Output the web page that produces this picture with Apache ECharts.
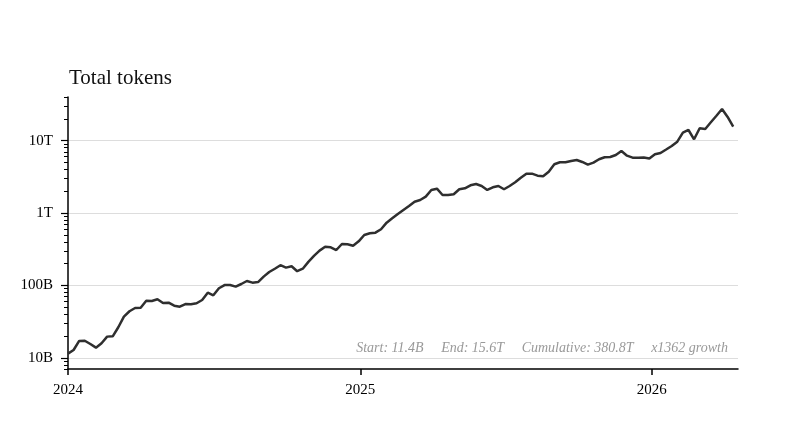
<!DOCTYPE html>
<html>
<head>
<meta charset="utf-8">
<script src="https://cdn.jsdelivr.net/npm/echarts@6/dist/echarts.min.js"></script>
<style>
  html, body { margin: 0; padding: 0; background: #ffffff; }
  #chart { width: 792px; height: 426px; }
</style>
</head>
<body>
<div id="chart"></div>
<script>
// Weekly dates (week starting)
const weeks = [
  '2024-01-01','2024-01-08','2024-01-15','2024-01-22','2024-01-29','2024-02-05','2024-02-12','2024-02-19','2024-02-26','2024-03-04',
  '2024-03-11','2024-03-18','2024-03-25','2024-04-01','2024-04-08','2024-04-15','2024-04-22','2024-04-29','2024-05-06','2024-05-13',
  '2024-05-20','2024-05-27','2024-06-03','2024-06-10','2024-06-17','2024-06-24','2024-07-01','2024-07-08','2024-07-15','2024-07-22',
  '2024-07-29','2024-08-05','2024-08-12','2024-08-19','2024-08-26','2024-09-02','2024-09-09','2024-09-16','2024-09-23','2024-09-30',
  '2024-10-07','2024-10-14','2024-10-21','2024-10-28','2024-11-04','2024-11-11','2024-11-18','2024-11-25','2024-12-02','2024-12-09',
  '2024-12-16','2024-12-23','2024-12-30','2025-01-06','2025-01-13','2025-01-20','2025-01-27','2025-02-03','2025-02-10','2025-02-17',
  '2025-02-24','2025-03-03','2025-03-10','2025-03-17','2025-03-24','2025-03-31','2025-04-07','2025-04-14','2025-04-21','2025-04-28',
  '2025-05-05','2025-05-12','2025-05-19','2025-05-26','2025-06-02','2025-06-09','2025-06-16','2025-06-23','2025-06-30','2025-07-07',
  '2025-07-14','2025-07-21','2025-07-28','2025-08-04','2025-08-11','2025-08-18','2025-08-25','2025-09-01','2025-09-08','2025-09-15',
  '2025-09-22','2025-09-29','2025-10-06','2025-10-13','2025-10-20','2025-10-27','2025-11-03','2025-11-10','2025-11-17','2025-11-24',
  '2025-12-01','2025-12-08','2025-12-15','2025-12-22','2025-12-29','2026-01-05','2026-01-12','2026-01-19','2026-01-26','2026-02-02',
  '2026-02-09','2026-02-16','2026-02-23','2026-03-02','2026-03-09','2026-03-16','2026-03-23','2026-03-30','2026-04-06','2026-04-13'
];

// Total tokens per week, in billions
const tokensB = [
  11.4, 12.8, 17.1, 17.2, 15.5, 13.8, 15.9, 19.6, 19.8, 26.4,
  37.0, 43.9, 48.7, 49.2, 61.5, 60.9, 64.3, 57.1, 57.7, 52.4,
  50.8, 55.3, 55.0, 56.6, 62.9, 79.3, 73.0, 91.2, 101, 101,
  96, 104.5, 115, 109, 111, 132, 153, 170, 190, 176,
  184, 157, 170, 211, 255, 302, 342, 336, 308, 373,
  370, 353, 406, 497, 524, 535, 596, 735, 845, 969,
  1100, 1249, 1432, 1512, 1680, 2078, 2166, 1773, 1773, 1813,
  2125, 2194, 2413, 2515, 2360, 2078, 2265, 2360, 2125, 2360,
  2655, 3060, 3489, 3489, 3275, 3213, 3719, 4706, 5016, 5016,
  5226, 5395, 5064, 4646, 4952, 5517, 5880, 5936, 6325, 7185,
  6186, 5805, 5805, 5843, 5660, 6468, 6742, 7535, 8424, 9656,
  12855, 14008, 10423, 14789, 14463, 17896, 22077, 27320, 21184, 15600
];

// Axis ticks
const yMajorTicks = [10, 100, 1000, 10000];
const yMajorLabels = ['10B', '100B', '1T', '10T'];
const yMinorTicks = [7, 8, 9, 20, 30, 40, 50, 60, 70, 80, 90, 200, 300, 400, 500, 600, 700, 800, 900,
  2000, 3000, 4000, 5000, 6000, 7000, 8000, 9000, 20000, 30000, 40000];
const xYearTicks = ['2024-01-01', '2025-01-01', '2026-01-01'];
const xYearLabels = ['2024', '2025', '2026'];
const xRange = ['2024-01-01', '2026-04-19'];

const titleText = 'Total tokens';
const noteText = 'Start: 11.4B     End: 15.6T     Cumulative: 380.8T     x1362 growth';

const serif = "'Liberation Serif', 'Times New Roman', serif";
const ts = d => +new Date(d + 'T00:00:00Z');
const yearTs = xYearTicks.map(ts);

const chart = echarts.init(document.getElementById('chart'), null, { renderer: 'canvas' });
chart.setOption({
  backgroundColor: '#ffffff',
  animation: false,
  title: [
    {
      text: titleText,
      left: 64,
      top: 63,
      textStyle: { fontFamily: serif, fontSize: 21, fontWeight: 'normal', color: '#111' }
    },
    {
      text: noteText,
      right: 59,
      top: 336,
      textStyle: { fontFamily: serif, fontSize: 14, fontStyle: 'italic', fontWeight: 'normal', color: '#999' }
    }
  ],
  grid: { left: 68, right: 54, top: 97, bottom: 57, containLabel: false },
  xAxis: {
    type: 'value',
    min: ts(xRange[0]),
    max: ts(xRange[1]),
    axisLine: { lineStyle: { color: '#000', width: 1.5 } },
    axisTick: { customValues: yearTs, length: 6, lineStyle: { color: '#000', width: 1.5 } },
    axisLabel: {
      customValues: yearTs,
      margin: 14,
      fontFamily: serif,
      fontSize: 15,
      color: '#000',
      formatter: function (v) {
        const i = yearTs.indexOf(v);
        return i >= 0 ? xYearLabels[i] : '';
      }
    },
    splitLine: { show: false }
  },
  yAxis: [
    {
      type: 'log',
      logBase: 10,
      min: 7,
      max: 40000,
      axisLine: { show: true, lineStyle: { color: '#000', width: 1.5 } },
      axisTick: { show: true, customValues: yMajorTicks, length: 7, lineStyle: { color: '#000', width: 1.2 } },
      axisLabel: {
        customValues: yMajorTicks,
        margin: 15,
        fontFamily: serif,
        fontSize: 15,
        color: '#000',
        formatter: function (v) {
          const i = yMajorTicks.findIndex(t => Math.abs(t - v) / t < 1e-6);
          return i >= 0 ? yMajorLabels[i] : '';
        }
      },
      splitLine: { show: true, lineStyle: { color: '#dddddd', width: 1 } }
    },
    {
      type: 'log',
      logBase: 10,
      min: 7,
      max: 40000,
      position: 'left',
      axisLine: { show: false },
      axisTick: { show: true, customValues: yMinorTicks, length: 4, lineStyle: { color: '#000', width: 1 } },
      axisLabel: { show: false },
      splitLine: { show: false }
    }
  ],
  series: [
    {
      type: 'line',
      yAxisIndex: 0,
      data: weeks.map((d, i) => [ts(d), tokensB[i]]),
      showSymbol: false,
      symbol: 'none',
      lineStyle: { color: '#2f2f2f', width: 2.5 },
      z: 3
    }
  ]
});
</script>
</body>
</html>
